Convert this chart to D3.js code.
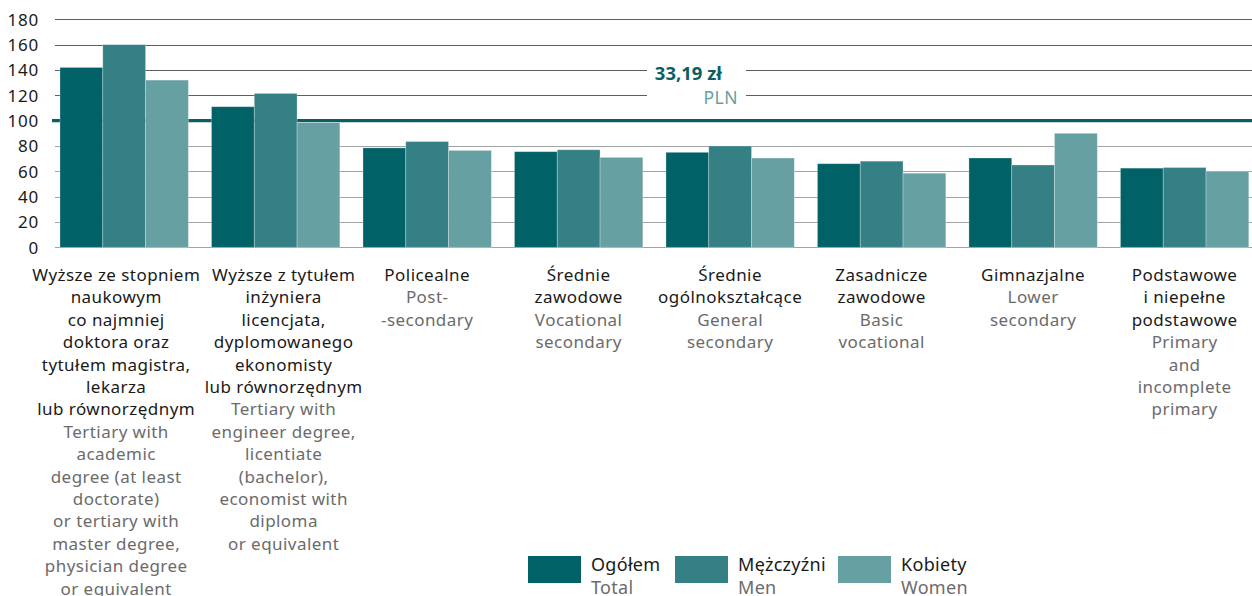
<!DOCTYPE html>
<html>
<head>
<meta charset="utf-8">
<script src="https://cdn.jsdelivr.net/npm/d3@7/dist/d3.min.js"></script>
<style>
  html, body { margin: 0; padding: 0; background: #ffffff; }
  svg { display: block; font-family: "Noto Sans", "Open Sans", sans-serif; }
</style>
</head>
<body>
<svg id="chart" width="1252" height="596"></svg>
<script>
// Education levels (Polish and English captions, line by line)
const categoriesPl = [
  ["Wyższe ze stopniem", "naukowym", "co najmniej", "doktora oraz", "tytułem magistra,", "lekarza", "lub równorzędnym"],
  ["Wyższe z tytułem", "inżyniera", "licencjata,", "dyplomowanego", "ekonomisty", "lub równorzędnym"],
  ["Policealne"],
  ["Średnie", "zawodowe"],
  ["Średnie", "ogólnokształcące"],
  ["Zasadnicze", "zawodowe"],
  ["Gimnazjalne"],
  ["Podstawowe", "i niepełne", "podstawowe"]
];
const categoriesEn = [
  ["Tertiary with", "academic", "degree (at least", "doctorate)", "or tertiary with", "master degree,", "physician degree", "or equivalent"],
  ["Tertiary with", "engineer degree,", "licentiate", "(bachelor),", "economist with", "diploma", "or equivalent"],
  ["Post-", "-secondary"],
  ["Vocational", "secondary"],
  ["General", "secondary"],
  ["Basic", "vocational"],
  ["Lower", "secondary"],
  ["Primary", "and", "incomplete", "primary"]
];

// Series values (average = 100)
const seriesNamesPl = ["Ogółem", "Mężczyźni", "Kobiety"];
const seriesNamesEn = ["Total", "Men", "Women"];
const totalValues = [142, 111, 78.5, 75.5, 75, 66, 70.5, 62.5];
const menValues   = [160, 121.5, 83.5, 77, 80, 68, 65, 63];
const womenValues = [132, 98.5, 76.5, 71, 70.5, 58.5, 90, 60];

const yTicks = [0, 20, 40, 60, 80, 100, 120, 140, 160, 180];
const referenceValue = 100;
const referenceLabel = "33,19 zł";
const referenceUnit = "PLN";

const colors = ["#006267", "#358085", "#67a0a3"];

const svg = d3.select("#chart");

const x = d3.scaleBand()
  .domain(d3.range(categoriesPl.length))
  .range([48.4, 1260.4])
  .paddingInner(0.1525)
  .paddingOuter(0.0765);

const x1 = d3.scaleBand()
  .domain(d3.range(3))
  .range([0, x.bandwidth()]);

const y = d3.scaleLinear().domain([0, 180]).range([247.3, 19.3]);

const gridLeft = 55, gridRight = 1252;

// Gridlines
svg.append("g").selectAll("line")
  .data(yTicks.filter(t => t !== referenceValue))
  .join("line")
  .attr("x1", gridLeft).attr("x2", gridRight)
  .attr("y1", d => Math.round(y(d)) + 0.5).attr("y2", d => Math.round(y(d)) + 0.5)
  .attr("stroke", d => d > referenceValue ? "#5f5f5f" : "#a3a3a3")
  .attr("stroke-width", 1.2);

// Reference line at the average
svg.append("line")
  .attr("x1", 52).attr("x2", gridRight)
  .attr("y1", y(referenceValue)).attr("y2", y(referenceValue))
  .attr("stroke", "#0b5e63").attr("stroke-width", 3.2);

// Y axis labels
const yAxis = d3.axisLeft(y).tickValues(yTicks).tickSize(0).tickPadding(0);
const yg = svg.append("g").attr("transform", "translate(39,0)").call(yAxis);
yg.select(".domain").remove();
yg.selectAll("text")
  .attr("font-family", "'Noto Sans', sans-serif")
  .attr("font-size", 17)
  .attr("letter-spacing", "0.8px")
  .attr("fill", "#1a1a1a")
  .attr("dy", "0.34em");

// Bars
const seriesValues = [totalValues, menValues, womenValues];
const groups = svg.append("g").selectAll("g")
  .data(d3.range(categoriesPl.length))
  .join("g")
  .attr("transform", i => `translate(${x(i)},0)`);

groups.selectAll("rect")
  .data(i => seriesValues.map((vals, s) => ({ s, v: vals[i] })))
  .join("rect")
  .attr("x", d => x1(d.s))
  .attr("width", x1.bandwidth())
  .attr("y", d => y(d.v))
  .attr("height", d => y(0) - y(d.v))
  .attr("fill", d => colors[d.s])
  .attr("stroke", "#ffffff")
  .attr("stroke-opacity", 0.35)
  .attr("stroke-width", 0.8);

// Reference value label on a white box
const refBox = svg.append("g");
refBox.append("rect")
  .attr("x", 647).attr("y", 62).attr("width", 99).attr("height", 50)
  .attr("fill", "#ffffff");
refBox.append("text")
  .attr("x", 722).attr("y", 80)
  .attr("text-anchor", "end")
  .attr("font-size", 18.5).attr("font-weight", 700)
  .attr("fill", "#0b5e63")
  .text(referenceLabel);
refBox.append("text")
  .attr("x", 738).attr("y", 104)
  .attr("text-anchor", "end")
  .attr("font-size", 17.5)
  .attr("letter-spacing", "0.5px")
  .attr("fill", "#67a0a3")
  .text(referenceUnit);

// Category captions under the bars
const labelNudge = [-8, 8, 0, 0, 0, 0, 0, 0];
const lineHeight = 22.4;
const captions = svg.append("g")
  .attr("text-anchor", "middle")
  .attr("font-size", 17)
  .attr("letter-spacing", "0.45px");
categoriesPl.forEach((pl, i) => {
  const cx = x(i) + x.bandwidth() / 2 + labelNudge[i];
  const lines = pl.map(t => ({ t, c: "#1a1a1a" }))
    .concat(categoriesEn[i].map(t => ({ t, c: "#6b6b6b" })));
  captions.selectAll(null)
    .data(lines)
    .join("text")
    .attr("x", cx)
    .attr("y", (d, k) => 281 + k * lineHeight)
    .attr("fill", d => d.c)
    .text(d => d.t);
});

// Legend
const legendX = [528, 675, 838];
const legend = svg.append("g")
  .attr("font-size", 18)
  .attr("letter-spacing", "0.3px");
seriesNamesPl.forEach((name, s) => {
  legend.append("rect")
    .attr("x", legendX[s]).attr("y", 556)
    .attr("width", 53).attr("height", 27)
    .attr("fill", colors[s]);
  legend.append("text")
    .attr("x", legendX[s] + 63).attr("y", 571)
    .attr("fill", "#1a1a1a")
    .text(name);
  legend.append("text")
    .attr("x", legendX[s] + 63).attr("y", 594)
    .attr("fill", "#6b6b6b")
    .text(seriesNamesEn[s]);
});
</script>
</body>
</html>
